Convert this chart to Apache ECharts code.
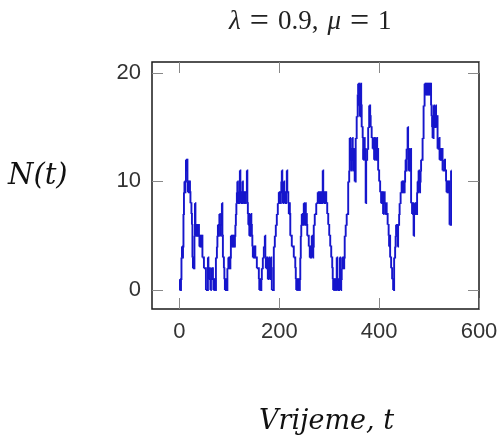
<!DOCTYPE html>
<html>
<head>
<meta charset="utf-8">
<script src="https://cdn.jsdelivr.net/npm/echarts@6/dist/echarts.min.js"></script>
<style>
html,body{margin:0;padding:0;background:#fff;}
#chart{width:501px;height:443px;}
</style>
</head>
<body>
<div id="chart"></div>
<script>
// Event times and queue length N(t) (step function)
const times = [
  0,1,2,3,4,5,6,7,8,9,10,11,12,13,14,15,16,17,18,19,20,21,22,24,25,26,27,28,29,30,
  31,32,33,34,35,36,37,38,39,40,41,42,43,44,45,46,49,53,57,58,59,60,61,62,63,64,65,66,67,68,
  69,70,71,72,73,75,76,77,78,79,80,81,82,83,84,85,86,87,89,90,91,92,93,94,95,96,98,99,100,101,
  102,103,104,105,106,107,108,109,110,111,112,113,114,115,116,117,118,119,120,121,122,123,124,125,126,127,128,129,130,131,
  132,133,135,136,137,138,139,140,141,142,143,144,145,146,147,149,150,151,152,155,159,160,161,162,164,165,167,169,171,172,
  173,175,176,177,178,179,180,181,182,183,184,185,189,191,193,195,197,199,200,201,202,203,204,205,206,207,208,209,210,211,
  212,213,214,215,216,218,219,220,221,222,225,229,232,233,234,235,236,237,238,239,240,241,242,243,244,245,246,247,248,249,
  250,251,252,253,254,255,256,259,261,262,263,264,265,266,267,268,269,271,274,277,279,280,281,282,283,284,285,286,287,288,
  289,290,291,292,294,296,298,300,302,304,306,307,308,309,310,311,312,313,314,315,316,317,318,319,320,321,322,323,324,325,
  326,327,328,329,330,331,333,335,338,340,341,342,343,344,345,346,347,348,349,350,351,353,355,357,358,359,360,361,362,363,
  364,365,367,368,369,370,371,372,373,374,376,378,380,382,383,385,387,389,390,391,392,393,394,395,396,397,398,400,402,404,
  405,406,407,408,409,410,411,412,414,415,417,419,420,421,422,424,426,428,430,432,433,434,435,436,437,438,440,441,443,445,
  446,447,448,449,450,451,452,453,454,455,457,458,459,460,461,462,463,464,466,467,468,469,470,471,472,473,474,476,477,478,
  479,480,481,482,483,484,487,489,491,492,493,494,495,496,497,498,499,500,501,502,503,504,505,506,507,509,510,511,512,513,
  514,515,516,517,519,521,522,523,524,525,526,527,530,532,534,535,536,537,538,539,540,541,544,545
];
const counts = [
  0,1,0,1,3,4,3,4,7,9,10,9,10,12,11,12,10,9,10,9,10,9,8,7,6,3,2,3,2,5,
  8,6,5,6,5,6,5,6,5,4,5,4,5,4,5,3,2,0,3,2,1,2,1,0,1,2,1,2,1,0,
  1,0,1,0,3,4,5,6,5,6,7,6,5,6,7,8,5,3,2,1,0,1,0,1,0,2,3,2,3,2,
  3,5,4,5,4,5,4,5,4,5,6,7,8,9,10,8,9,8,9,11,9,8,9,8,10,9,8,9,8,9,
  8,9,11,8,7,6,7,5,6,5,7,6,5,4,3,4,3,4,3,2,1,0,1,0,1,2,3,4,5,3,
  2,3,2,1,2,3,2,1,2,3,2,0,4,5,6,7,8,9,8,9,8,9,10,11,9,8,9,10,9,8,
  9,8,9,11,9,8,7,8,7,5,4,3,2,1,0,1,0,1,0,1,0,1,3,5,6,7,6,7,6,8,
  7,6,8,6,7,6,5,4,3,4,3,4,5,4,3,4,6,7,8,9,8,9,8,9,8,9,8,9,11,9,
  8,9,8,9,8,7,6,5,4,3,2,1,0,1,0,1,0,1,0,3,1,0,1,0,1,3,1,0,1,2,
  3,2,3,2,3,5,6,7,10,11,14,12,13,11,12,14,13,11,12,13,10,14,16,18,19,17,19,16,18,19,
  17,15,14,12,13,14,12,13,8,12,13,15,17,16,15,14,13,14,12,13,14,12,13,14,12,13,11,10,9,8,
  9,8,9,7,8,9,8,7,8,7,6,5,4,5,3,2,1,0,3,4,5,6,5,6,4,6,7,8,9,10,
  9,10,9,10,9,10,11,12,11,13,15,12,11,13,11,12,13,8,7,8,7,5,7,8,7,8,7,9,10,9,
  11,10,9,10,11,12,14,17,19,18,19,18,19,18,19,18,19,18,19,18,19,17,16,15,14,17,15,16,15,17,
  16,15,16,13,14,12,13,12,13,12,13,11,12,11,10,9,10,9,10,9,10,6,11,11
];
const xTicks = [0, 200, 400, 600];
const yTicks = [0, 10, 20];
const yName = 'N(t)';
const xName = 'Vrijeme, t';

// each step: [tStart, tEnd, level, nextLevel]
const steps = times.map((t, i) => {
  const last = i === times.length - 1;
  return [t, last ? t : times[i + 1], counts[i], last ? counts[i] : counts[i + 1]];
});

const chart = echarts.init(document.getElementById('chart'), null, {renderer: 'canvas'});
const tickStyle = {show: true, inside: true, length: 11, lineStyle: {color: '#888', width: 1}};
const labelFont = {fontFamily: 'Liberation Sans, Arial, sans-serif', fontSize: 22, color: '#333'};
const noLine = {show: false, onZero: false};
const sp = '\u2004';

chart.setOption({
  animation: false,
  backgroundColor: '#fff',
  grid: {left: 152, top: 62, right: 22, bottom: 134, show: true, borderColor: '#1a1a1a', borderWidth: 1.5, backgroundColor: 'transparent'},
  graphic: [
    {type: 'text', left: 229, top: 5, style: {
      text: '{i|λ}' + sp + '{e|=}' + sp + '0.9,' + sp + '{i|μ}' + sp + '{e|=}' + sp + '1',
      fontFamily: 'Liberation Serif, serif', fontSize: 27, fill: '#222', verticalAlign: 'top',
      rich: {
        i: {fontStyle: 'italic', fontFamily: 'Liberation Serif, serif', fontSize: 27, color: '#222', verticalAlign: 'middle'},
        e: {fontFamily: 'Liberation Serif, serif', fontSize: 34, color: '#222', verticalAlign: 'middle'}
      }
    }},
    {type: 'text', left: 8, top: 162, style: {text: yName, fontFamily: 'DejaVu Serif, serif', fontStyle: 'italic', fontSize: 29, fill: '#111'}},
    {type: 'text', left: 259, top: 408, style: {text: xName, fontFamily: 'DejaVu Serif, serif', fontStyle: 'italic', fontSize: 27, fill: '#111'}}
  ],
  xAxis: [
    {type: 'value', min: -55, max: 600, position: 'bottom',
     axisLine: noLine, splitLine: {show: false},
     axisTick: Object.assign({customValues: xTicks}, tickStyle),
     axisLabel: Object.assign({customValues: xTicks, margin: 12}, labelFont)},
    {type: 'value', min: -55, max: 600, position: 'top',
     axisLine: noLine, splitLine: {show: false},
     axisTick: Object.assign({customValues: xTicks}, tickStyle),
     axisLabel: {show: false}}
  ],
  yAxis: [
    {type: 'value', min: -1.75, max: 21, position: 'left',
     axisLine: noLine, splitLine: {show: false},
     axisTick: Object.assign({customValues: yTicks}, tickStyle),
     axisLabel: Object.assign({customValues: yTicks, margin: 11}, labelFont)},
    {type: 'value', min: -1.75, max: 21, position: 'right',
     axisLine: noLine, splitLine: {show: false},
     axisTick: Object.assign({customValues: yTicks}, tickStyle),
     axisLabel: {show: false}}
  ],
  series: [{
    type: 'custom', xAxisIndex: 0, yAxisIndex: 0, data: steps,
    encode: {x: [0, 1], y: [2, 3]},
    renderItem: function (params, api) {
      const p0 = api.coord([api.value(0), api.value(2)]);
      const p1 = api.coord([api.value(1), api.value(2)]);
      const p2 = api.coord([api.value(1), api.value(3)]);
      return {type: 'polyline', shape: {points: [p0, p1, p2]},
        style: {stroke: '#1616cc', lineWidth: 1.9, fill: null, lineJoin: 'miter'}};
    }
  }]
});
</script>
</body>
</html>
